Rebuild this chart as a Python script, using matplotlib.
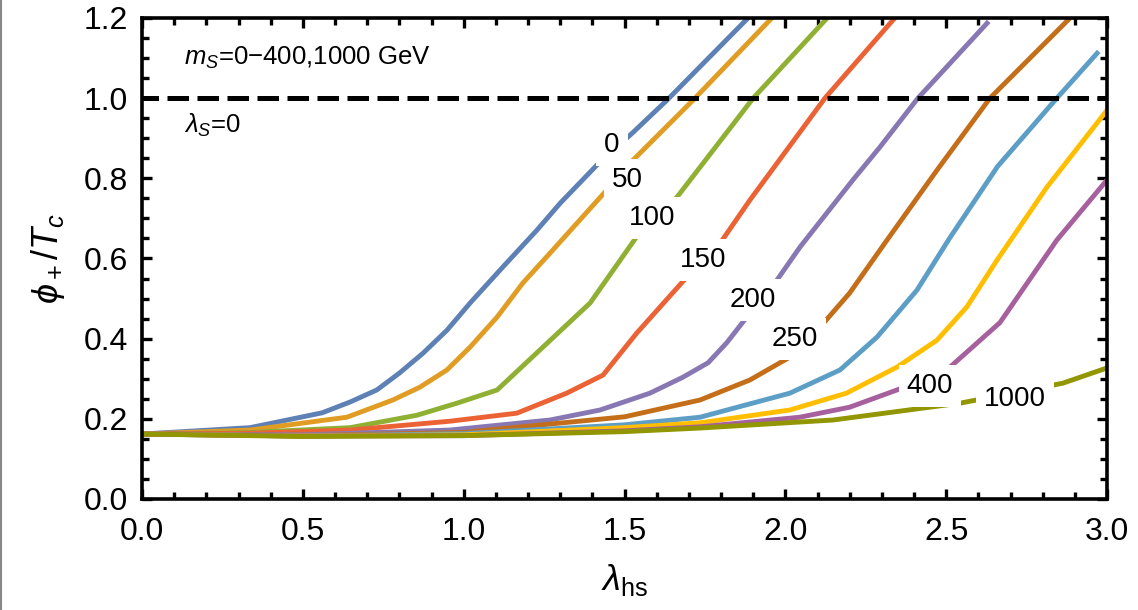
import matplotlib
matplotlib.use("Agg")
import matplotlib.pyplot as plt
from matplotlib.lines import Line2D
from matplotlib.ticker import MultipleLocator

plt.rcParams["font.family"] = ["Liberation Sans", "DejaVu Sans"]
plt.rcParams["mathtext.fontset"] = "custom"
plt.rcParams["mathtext.rm"] = "Liberation Sans"
plt.rcParams["mathtext.it"] = "Liberation Sans:italic"
plt.rcParams["mathtext.bf"] = "Liberation Sans:bold"

# ---- phi_+/T_c vs lambda_hs for several singlet masses m_S (GeV) ----
ms_labels = ["0", "50", "100", "150", "200", "250", "300", "350", "400", "1000"]

x_0 = [0, 0.336, 0.56, 0.647, 0.73, 0.80, 0.874, 0.948, 1.02, 1.122, 1.228, 1.30, 1.414, 1.527, 1.632, 1.884]
y_0 = [0.162, 0.178, 0.215, 0.242, 0.272, 0.314, 0.364, 0.421, 0.489, 0.579, 0.671, 0.738, 0.833, 0.915, 0.995, 1.2]

x_50 = [0, 0.336, 0.637, 0.78, 0.864, 0.948, 1.02, 1.104, 1.184, 1.268, 1.445, 1.517, 1.713, 1.958]
y_50 = [0.162, 0.172, 0.204, 0.247, 0.279, 0.322, 0.379, 0.454, 0.539, 0.613, 0.771, 0.838, 0.995, 1.2]

x_100 = [0, 0.336, 0.647, 0.855, 0.979, 1.104, 1.393, 1.548, 1.663, 1.90, 2.13]
y_100 = [0.162, 0.166, 0.178, 0.209, 0.239, 0.272, 0.489, 0.666, 0.753, 1.0, 1.2]

x_150 = [0, 0.336, 0.647, 0.957, 1.165, 1.32, 1.433, 1.538, 1.713, 1.797, 1.89, 2.123, 2.34]
y_150 = [0.162, 0.164, 0.172, 0.194, 0.214, 0.264, 0.309, 0.414, 0.571, 0.638, 0.746, 1.0, 1.2]

x_200 = [0, 0.5, 0.957, 1.268, 1.424, 1.579, 1.682, 1.76, 1.818, 1.89, 1.952, 2.045, 2.21, 2.294, 2.412, 2.627]
y_200 = [0.162, 0.160, 0.172, 0.197, 0.222, 0.264, 0.304, 0.340, 0.390, 0.464, 0.521, 0.628, 0.796, 0.878, 1.0, 1.187]

x_250 = [0, 0.5, 1.0, 1.5, 1.735, 1.89, 2.014, 2.108, 2.2, 2.316, 2.471, 2.636, 2.885]
y_250 = [0.162, 0.158, 0.166, 0.205, 0.247, 0.297, 0.354, 0.429, 0.514, 0.646, 0.820, 1.0, 1.2]

x_300 = [0, 0.5, 1.0, 1.5, 1.735, 2.014, 2.17, 2.285, 2.409, 2.51, 2.66, 2.844, 2.969]
y_300 = [0.162, 0.157, 0.163, 0.185, 0.204, 0.264, 0.322, 0.404, 0.521, 0.650, 0.830, 1.0, 1.112]

x_350 = [0, 0.5, 1.0, 1.5, 1.735, 2.014, 2.19, 2.347, 2.471, 2.564, 2.658, 2.813, 3.0]
y_350 = [0.162, 0.157, 0.160, 0.178, 0.190, 0.222, 0.264, 0.329, 0.396, 0.479, 0.596, 0.778, 0.970]

x_400 = [0, 0.5, 1.0, 1.5, 1.735, 2.045, 2.2, 2.347, 2.502, 2.667, 2.844, 3.0]
y_400 = [0.162, 0.157, 0.158, 0.170, 0.180, 0.204, 0.229, 0.272, 0.322, 0.440, 0.646, 0.796]

x_1000 = [0, 0.5, 1.0, 1.5, 1.735, 2.148, 2.543, 2.8, 2.863, 3.0]
y_1000 = [0.162, 0.156, 0.158, 0.168, 0.177, 0.197, 0.239, 0.279, 0.289, 0.327]

xs = [x_0, x_50, x_100, x_150, x_200, x_250, x_300, x_350, x_400, x_1000]
ys = [y_0, y_50, y_100, y_150, y_200, y_250, y_300, y_350, y_400, y_1000]

colors = ["#5E81B5", "#E19C24", "#8FB032", "#EB6235", "#8778B3",
          "#C56E1A", "#5D9EC7", "#FFBF00", "#A5609D", "#929600"]

# inline label positions (None = no label on that curve)
label_pos = [(1.461, 0.882), (1.51, 0.797), (1.585, 0.701), (1.744, 0.596),
             (1.899, 0.496), (2.03, 0.399), None, None, (2.449, 0.282), (2.714, 0.249)]

threshold = 1.0

fig = plt.figure(figsize=(11.38, 6.10), dpi=100)
ax = fig.add_axes([0.1248, 0.182, 0.8480, 0.7885])

for x, y, c in zip(xs, ys, colors):
    ax.plot(x, y, color=c, lw=3.5, solid_joinstyle="miter", zorder=2)

ax.axhline(threshold, color="black", lw=3.6, linestyle=(1.0, (4.3, 1.7)),
           dash_capstyle="butt", zorder=3)

for lab, pos in zip(ms_labels, label_pos):
    if pos is None:
        continue
    ax.text(pos[0], pos[1], lab, fontsize=20, ha="center", va="center", zorder=5,
            bbox=dict(boxstyle="square,pad=0.28", fc="white", ec="none"))

ax.text(0.043, 0.918, r"$m_S$=0$-$400,1000 GeV", transform=ax.transAxes,
        fontsize=18.5, ha="left", va="center")
ax.text(0.043, 0.776, r"$\lambda_S$=0", transform=ax.transAxes,
        fontsize=18.5, ha="left", va="center")

ax.set_xlim(0, 3.0)
ax.set_ylim(0, 1.2)
ax.xaxis.set_major_locator(MultipleLocator(0.5))
ax.xaxis.set_minor_locator(MultipleLocator(0.1))
ax.yaxis.set_major_locator(MultipleLocator(0.2))
ax.yaxis.set_minor_locator(MultipleLocator(0.05))
ax.xaxis.set_major_formatter(lambda v, p: f"{v:.1f}")
ax.yaxis.set_major_formatter(lambda v, p: f"{v:.1f}")

ax.tick_params(which="both", direction="in", top=True, right=True, width=2.4,
               labelsize=23)
ax.tick_params(which="major", length=7.5)
ax.tick_params(which="minor", length=4.8)
ax.tick_params(axis="x", pad=13)
ax.tick_params(axis="y", pad=10)
for s in ax.spines.values():
    s.set_linewidth(2.6)

ax.set_xlabel(r"$\lambda_{\rm hs}$", fontsize=26, labelpad=11)
ax.set_ylabel(r"$\phi_+/T_c$", fontsize=26, labelpad=12)

fig.add_artist(Line2D([0.001, 0.001], [0, 1], transform=fig.transFigure,
                      color="#888888", lw=1.5))

fig.savefig("out.png", dpi=100)
